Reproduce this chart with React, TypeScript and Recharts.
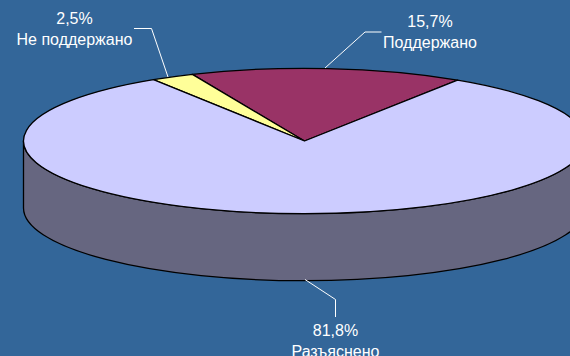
import { Pie, PieChart } from "recharts";

const categories = ["Поддержано", "Не поддержано", "Разъяснено"];
const shares = [15.7, 2.5, 81.8];
const topColors = ["#993366", "#FFFF99", "#CCCCFF"];

const sliceData = categories.map((name, i) => ({ name, value: shares[i], fill: topColors[i] }));

const WIDTH = 570;
const HEIGHT = 356;
const RX = 281;
const RY = 72.7;
const DEPTH = 67;
const RAD = Math.PI / 180;

// where each label and its leader line go, same order as categories
const labelLayout = [
  { x: 430, y: 27, line: "381.5,32 365,32 325,68" },
  { x: 74.5, y: 24, line: "134,28.5 151.5,28.5 168,77" },
  { x: 335.5, y: 335.5, line: "305,279.5 335.5,299.5 335.5,317" },
];

const px = (cx: number, a: number) => cx + RX * Math.cos(a * RAD);
const py = (cy: number, a: number) => cy - RY * Math.sin(a * RAD);

// recharts only draws circles, so the slice is redrawn squashed into an ellipse
function TopSlice({ cx, cy, startAngle, endAngle, fill }: any) {
  const large = endAngle - startAngle > 180 ? 1 : 0;
  const d = `M${cx},${cy} L${px(cx, startAngle)},${py(cy, startAngle)} A${RX},${RY} 0 ${large} 0 ${px(cx, endAngle)},${py(cy, endAngle)} Z`;
  return <path d={d} fill={fill} stroke="#000" strokeWidth={1.3} strokeLinejoin="round" />;
}

// side wall, only the part of the slice facing the viewer (180..360 deg)
function WallSlice({ cx, cy, startAngle, endAngle }: any) {
  const from = Math.max(startAngle, 180);
  const to = Math.min(endAngle, 360);
  if (to <= from) return null;
  const d =
    `M${px(cx, from)},${py(cy, from)} A${RX},${RY} 0 0 0 ${px(cx, to)},${py(cy, to)} ` +
    `L${px(cx, to)},${py(cy, to) + DEPTH} A${RX},${RY} 0 0 1 ${px(cx, from)},${py(cy, from) + DEPTH} Z`;
  return <path d={d} fill="#666680" stroke="#000" strokeWidth={1.3} strokeLinejoin="round" />;
}

function SliceLabel({ index, value, name }: any) {
  const pos = labelLayout[index];
  return (
    <g>
      <polyline points={pos.line} fill="none" stroke="#fff" strokeWidth={1} />
      <text x={pos.x} y={pos.y} textAnchor="middle" fill="#fff" fontSize={16} fontFamily="Liberation Sans">
        {value.toFixed(1).replace(".", ",")}%
      </text>
      <text x={pos.x} y={pos.y + 21} textAnchor="middle" fill="#fff" fontSize={16} fontFamily="Liberation Sans">
        {name}
      </text>
    </g>
  );
}

export default function App() {
  return (
    <div style={{ position: "absolute", left: 0, top: 0, width: WIDTH, height: HEIGHT, overflow: "hidden", background: "#336699" }}>
      <PieChart width={WIDTH} height={HEIGHT} margin={{ top: 0, right: 0, bottom: 0, left: 0 }}>
        <Pie
          data={sliceData}
          dataKey="value"
          nameKey="name"
          cx={304.5}
          cy={141}
          outerRadius={RX}
          startAngle={57}
          endAngle={417}
          shape={WallSlice}
          isAnimationActive={false}
        />
        <Pie
          data={sliceData}
          dataKey="value"
          nameKey="name"
          cx={304.5}
          cy={141}
          outerRadius={RX}
          startAngle={57}
          endAngle={417}
          shape={TopSlice}
          label={SliceLabel}
          labelLine={false}
          isAnimationActive={false}
        />
      </PieChart>
    </div>
  );
}
